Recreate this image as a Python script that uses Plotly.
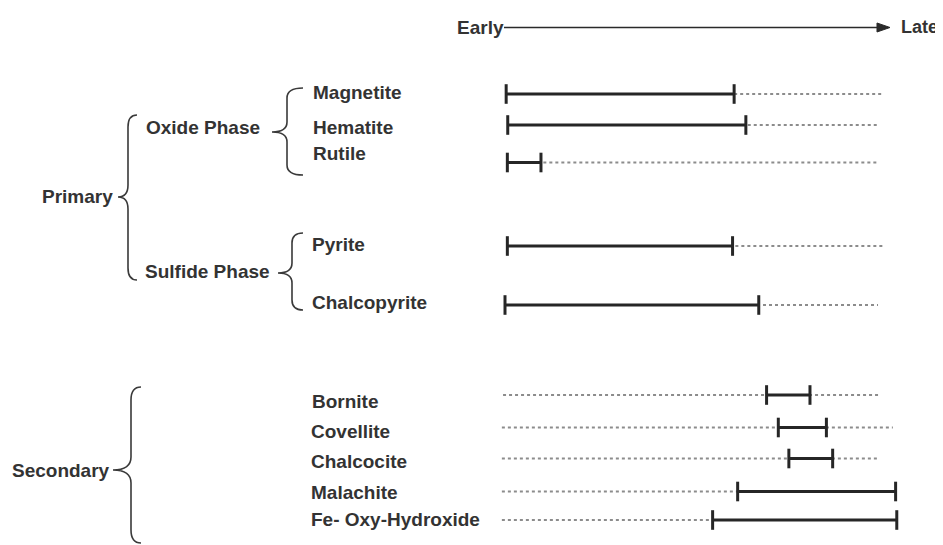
import plotly.graph_objects as go

OFF = 8                      # browser default body margin
W, H = 943 - OFF, 545 - OFF  # figure size so that page = 943x545

# ---------------- data ----------------
minerals = ["Magnetite", "Hematite", "Rutile", "Pyrite", "Chalcopyrite",
            "Bornite", "Covellite", "Chalcocite", "Malachite", "Fe- Oxy-Hydroxide"]
# relative paragenetic time (0 = early, 100 = late)
solid_start = [0.3, 0.7, 0.6, 0.6, 0.0, 66.9, 69.9, 72.6, 59.5, 53.1]
solid_end   = [58.6, 61.6, 9.2, 58.2, 64.9, 78.0, 82.2, 83.8, 99.9, 100.2]
dot_start   = [0.3, 0.7, 0.6, 0.6, 0.0, -0.5, -0.8, -0.8, -0.8, -0.8]
dot_end     = [96.4, 95.4, 95.7, 96.8, 95.4, 96.0, 99.2, 95.4, 99.9, 100.2]

# layout helpers (page-pixel positions of rows / labels)
row_y   = [94, 125, 162.5, 246, 305, 395, 427.5, 458.5, 491.5, 520]
label_y = [92.5, 127, 153, 245, 302, 401, 431.5, 461.5, 492.5, 519]
label_x = [313, 313, 313, 312, 312, 311.5, 311, 311, 311, 311]

# x-axis mapping: t -> page pixel = 505 + 3.91 t
PX0, PXS = 505.0, 3.91
tmin = -(PX0 - OFF) / PXS
tmax = tmin + W / PXS

TXT = "#333333"
FONT = "Liberation Sans, Arial, sans-serif"
FS = 19
PAD = 2   # annotation inner padding compensation

fig = go.Figure()

for i, m in enumerate(minerals):
    y = row_y[i]
    fig.add_trace(go.Scatter(
        x=[dot_start[i], dot_end[i]], y=[y, y], mode="lines",
        line=dict(color="#8c8c8c", width=2, dash="dot"),
        hoverinfo="skip", showlegend=False))
    fig.add_trace(go.Scatter(
        x=[solid_start[i], solid_end[i]], y=[y, y], mode="lines+markers",
        line=dict(color="#262626", width=3),
        marker=dict(symbol="line-ns", size=14,
                    line=dict(width=3, color="#262626"), color="#262626"),
        name=m, showlegend=False))


def P(x, y):
    return (x - OFF) / W, 1 - (y - OFF) / H


def f(x, y):
    a, b = P(x, y)
    return f"{a:.5f},{b:.5f}"


def brace(xe, yt, yb, s, xt, ym, r=9):
    d = (f"M {f(xe, yt)} Q {f(s, yt)} {f(s, yt + r)} "
         f"L {f(s, ym - r)} Q {f(s, ym)} {f(xt, ym)} "
         f"Q {f(s, ym)} {f(s, ym + r)} L {f(s, yb - r)} "
         f"Q {f(s, yb)} {f(xe, yb)}")
    return dict(type="path", xref="paper", yref="paper", path=d,
                line=dict(color="#3a3a3a", width=1.6))


shapes = [
    brace(137, 115, 280, 128, 118, 197, r=12),   # Primary
    brace(303, 88, 175, 287, 272, 132, r=10),    # Oxide
    brace(303, 233, 310, 292, 278, 273, r=10),   # Sulfide
    brace(141, 387, 543, 131, 113, 470, r=13),   # Secondary
]
# Early -> Late arrow
x0, y0 = P(504, 27.5)
x1, y1 = P(880, 27.5)
shapes.append(dict(type="line", xref="paper", yref="paper", x0=x0, y0=y0,
                   x1=x1, y1=y1, line=dict(color="#2a2a2a", width=1.5)))
shapes.append(dict(type="path", xref="paper", yref="paper",
                   path=f"M {f(877, 23)} L {f(890, 27.5)} L {f(877, 32)} Z",
                   fillcolor="#2a2a2a", line=dict(color="#2a2a2a", width=1)))

annotations = []


def lab(text, x, y, size=FS):
    px, py = P(x - PAD, y)
    annotations.append(dict(text=f"<b>{text}</b>", x=px, y=py, xref="paper",
                            yref="paper", xanchor="left", yanchor="middle",
                            showarrow=False,
                            font=dict(family=FONT, size=size, color=TXT)))


for i, m in enumerate(minerals):
    lab(m, label_x[i], label_y[i])

lab("Oxide Phase", 145.5, 127)
lab("Sulfide Phase", 145, 271)
lab("Primary", 41.5, 196.5)
lab("Secondary", 12, 470)
lab("Early", 456.5, 27.5)
lab("Late", 901, 27.5, size=18)

fig.update_layout(
    width=W, height=H, margin=dict(l=0, r=0, t=0, b=0),
    paper_bgcolor="white", plot_bgcolor="white",
    xaxis=dict(range=[tmin, tmax], visible=False, fixedrange=True),
    yaxis=dict(range=[545, OFF], visible=False, fixedrange=True),
    shapes=shapes, annotations=annotations, showlegend=False,
)

fig.write_html("out.html")
